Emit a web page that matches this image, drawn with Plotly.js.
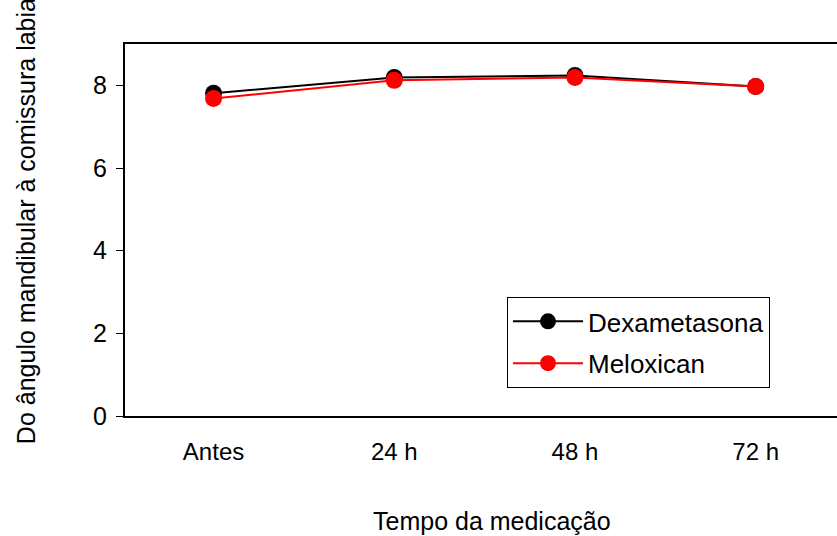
<!DOCTYPE html>
<html>
<head>
<meta charset="utf-8">
<script src="https://cdn.plot.ly/plotly-3.0.1.min.js"></script>
<style>
  html, body { margin: 0; padding: 0; background: #fff; }
  #chart { width: 837px; height: 536px; }
</style>
</head>
<body>
<div id="chart"></div>
<script>
// Time points of the measurement
const categories = ['Antes', '24 h', '48 h', '72 h'];

// Mean distance from the mandibular angle to the labial commissure
const dexametasona = [7.81, 8.19, 8.24, 7.97];
const meloxican = [7.68, 8.12, 8.19, 7.97];

// Y axis ticks
const yTicks = [0, 2, 4, 6, 8];

const FONT = 'Liberation Sans, Arial, sans-serif';

const traces = [
  {
    x: categories, y: dexametasona, name: 'Dexametasona',
    type: 'scatter', mode: 'lines+markers', legendgroup: 'a',
    line: { color: '#000000', width: 2 },
    marker: { color: '#000000', size: 17 }
  },
  {
    x: categories, y: meloxican, name: 'Meloxican',
    type: 'scatter', mode: 'lines+markers', legendgroup: 'b',
    line: { color: '#ff0000', width: 2 },
    marker: { color: '#ff0000', size: 17 }
  }
];

const layout = {
  width: 837, height: 536,
  margin: { l: 125, r: 0, t: 44, b: 120 },
  paper_bgcolor: '#ffffff', plot_bgcolor: '#ffffff',
  font: { family: FONT, size: 25, color: '#000000' },
  showlegend: true,
  legend: {
    x: 0.5365, y: 0.32, xanchor: 'left', yanchor: 'top',
    bgcolor: '#ffffff', bordercolor: '#000000', borderwidth: 1,
    font: { family: FONT, size: 26, color: '#000000' },
    itemwidth: 70,
    tracegroupgap: 5
  },
  xaxis: {
    type: 'category',
    range: [-0.49, 3.45],
    showline: true, mirror: true, linecolor: '#000000', linewidth: 2,
    showgrid: false, zeroline: false, ticks: '',
    ticklabelstandoff: 13,
    tickfont: { family: FONT, size: 24, color: '#000000' }
  },
  yaxis: {
    range: [0, 9],
    tickvals: yTicks,
    showline: true, linecolor: '#000000', linewidth: 2,
    showgrid: false, zeroline: false,
    ticks: 'outside', ticklen: 7, tickwidth: 1, tickcolor: '#000000',
    ticklabelstandoff: 4,
    tickfont: { family: FONT, size: 25, color: '#000000' }
  },
  annotations: [
    {
      text: 'Tempo da medicação', xref: 'paper', yref: 'paper',
      x: 0.515, y: -0.283, xanchor: 'center', yanchor: 'middle',
      showarrow: false, font: { family: FONT, size: 25, color: '#000000' }
    },
    {
      text: 'Do ângulo mandibular à comissura labial', xref: 'paper', yref: 'paper',
      x: -0.139, y: 0.532, xanchor: 'center', yanchor: 'middle', textangle: -90,
      showarrow: false, font: { family: FONT, size: 25, color: '#000000' }
    }
  ]
};

Plotly.newPlot('chart', traces, layout, { staticPlot: true, displayModeBar: false });
</script>
</body>
</html>
